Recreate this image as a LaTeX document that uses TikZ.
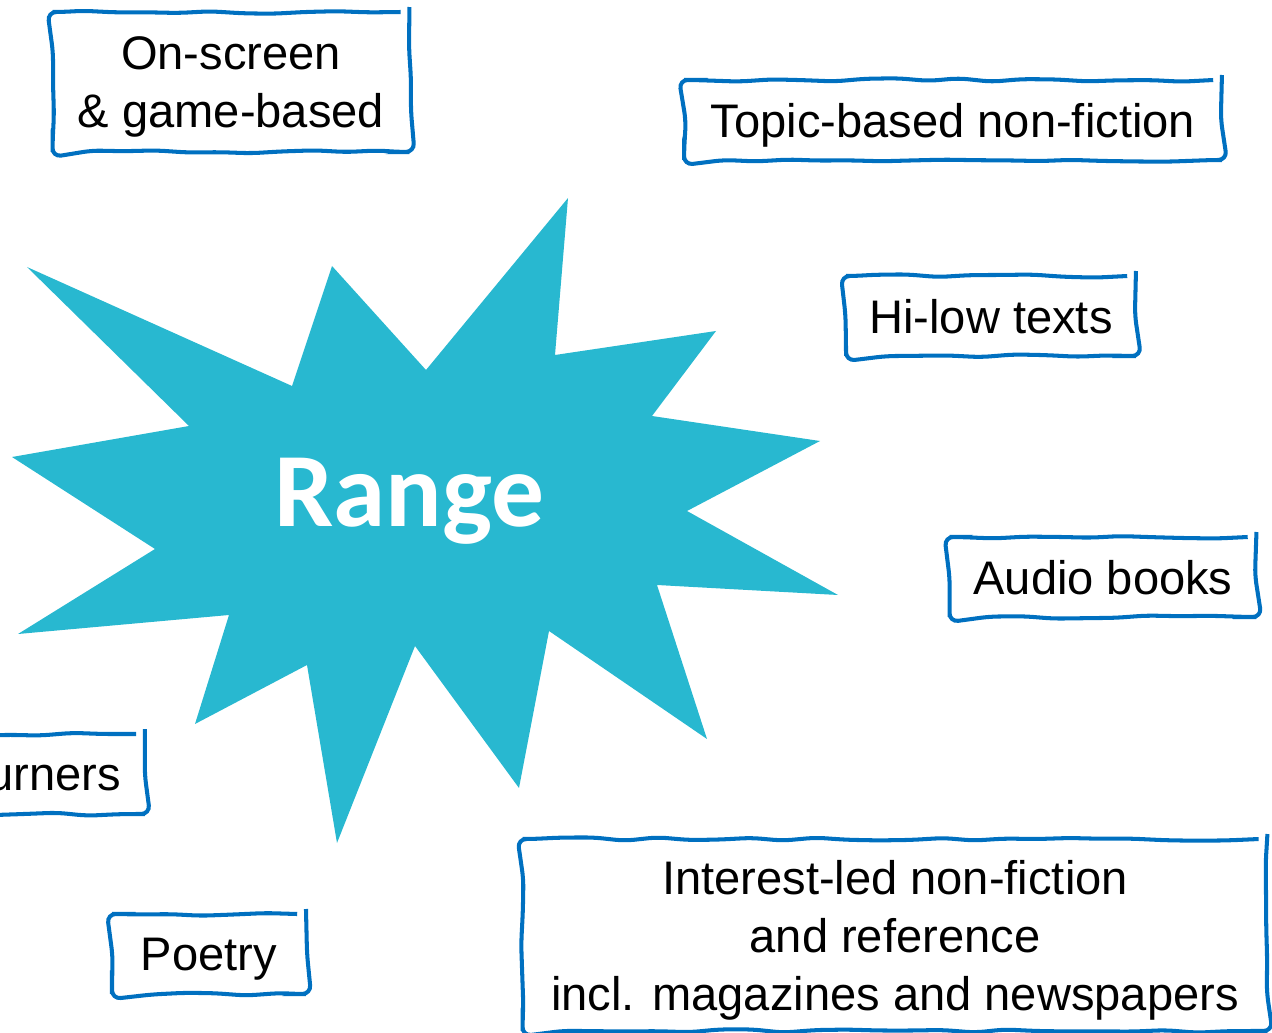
\documentclass[tikz,border=0pt]{standalone}
\usepackage{fontspec}
\setmainfont{Liberation Sans}
\newfontfamily\rangefont{Carlito}
\usetikzlibrary{positioning,decorations.pathmorphing}
\definecolor{boxblue}{RGB}{0,112,192}
\definecolor{starcyan}{RGB}{40,184,208}

\begin{document}
\begin{tikzpicture}[x=0.02cm,y=-0.02cm,
                    sketch/.style={draw=boxblue,line width=2.3pt,
                      decorate,decoration={random steps,segment length=18pt,
                        amplitude=1pt},rounded corners=5pt,
                      align=center,inner sep=0pt,text depth=0pt,
                      font=\fontsize{26.8}{33}\selectfont},
                    star/.style={fill=starcyan}]
                  \pgfmathsetseed{7}
                  \path[use as bounding box,clip] (0,0) rectangle (1272,1033);

                  % the burst in the middle
                  \fill[star] (568,198) -- (555,355) -- (716,331) -- (652,416)
                    -- (820,441) -- (687,511) -- (838,595) -- (657,585)
                    -- (707,739) -- (549,631) -- (519,788) -- (415,646)
                    -- (337,843) -- (307,665) -- (195,724) -- (229,615)
                    -- (18,634) -- (155,549) -- (12,457) -- (189,426)
                    -- (27,267) -- (292,386) -- (332,266) -- (426,370)
                    -- cycle;
                  \node (range) [anchor=base,text=white,
                    font=\rangefont\bfseries\fontsize{60}{60}\selectfont]
                    at (409,527) {Range};

                  % boxes round it
                  \node (screen) [sketch,minimum width=7.14cm,minimum height=2.8cm]
                    at (231,82) {On-screen\\\& game-based};
                  \node (topic) [sketch,minimum width=10.76cm,minimum height=1.6cm]
                    at (953,120) {Topic-based non-fiction};
                  \node (hilow) [sketch,minimum width=5.8cm,minimum height=1.6cm]
                    at (991,316) {Hi-low texts};
                  \node (audio) [sketch,minimum width=6.14cm,minimum height=1.6cm]
                    at (1103,577) {Audio books};
                  \node (turners) [sketch,minimum width=6.4cm,minimum height=1.6cm]
                    at (-15,774) {Page-turners};
                  \node (poetry) [sketch,minimum width=3.88cm,minimum height=1.6cm]
                    at (209,954) {Poetry};
                  \node (interest) [sketch,minimum width=14.9cm,minimum height=3.84cm]
                    at (895,935) {Interest-led non-fiction\\and reference\\incl. magazines and newspapers};
                \end{tikzpicture}
\end{document}
